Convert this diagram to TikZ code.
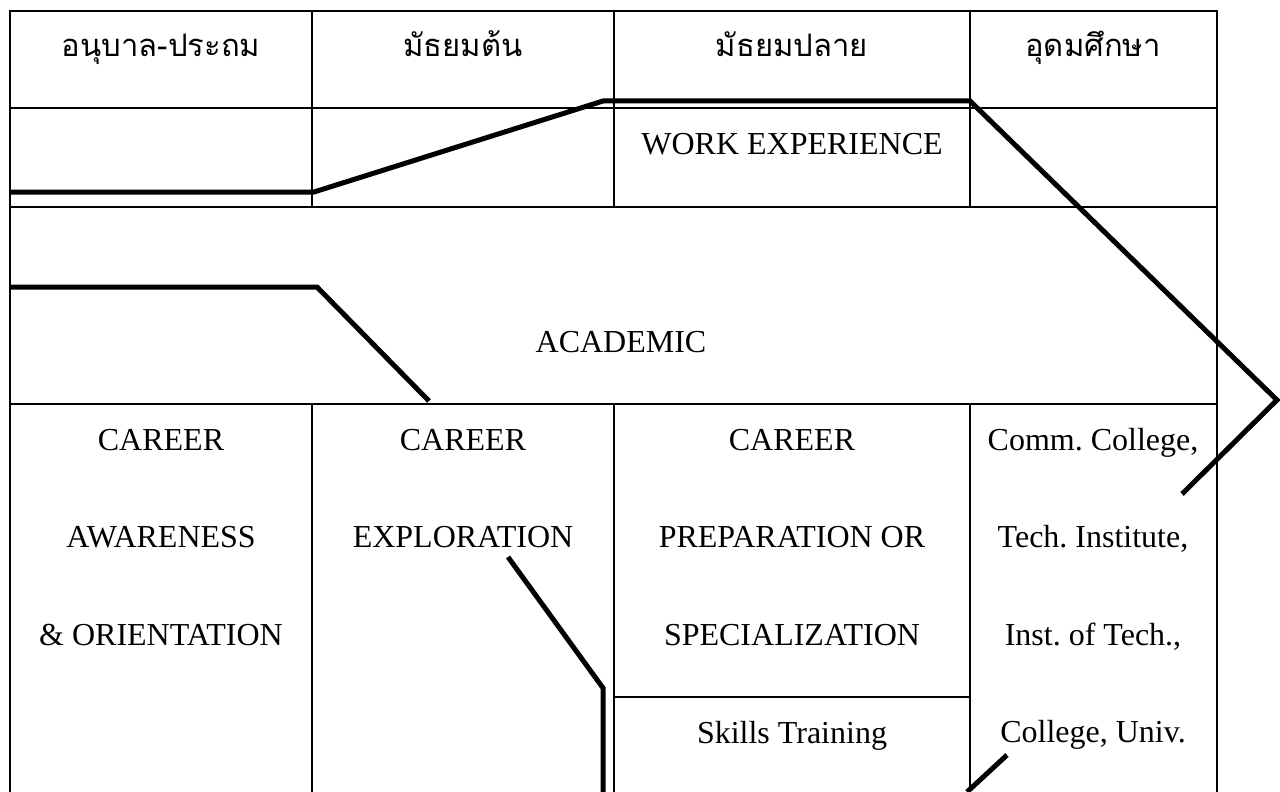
\documentclass[tikz,border=0pt]{standalone}
\usepackage{fontspec}
\setmainfont{Liberation Serif}
\newfontfamily\thaifont[Script=Thai]{Loma}
\usetikzlibrary{positioning}
\frenchspacing

\begin{document}
\begin{tikzpicture}[x=0.5pt, y=-0.5pt]
    \tikzstyle{rule} = [draw, line width=1pt];
    \tikzstyle{track} = [draw, line width=2.5pt];
    \tikzstyle{head} = [anchor=base, inner sep=0pt, font=\thaifont\fontsize{15.5}{18}\selectfont];
    \tikzstyle{entry} = [anchor=base, inner sep=0pt, font=\fontsize{16}{19}\selectfont];

    \useasboundingbox (0,0) rectangle (1280,792);

    % table
    \draw[rule] (10,792) -- (10,11) -- (1217,11) -- (1217,792);
    \foreach \y in {108, 207, 404} \draw[rule] (10,\y) -- (1217,\y);
    \foreach \x in {312, 614, 970} {
        \draw[rule] (\x,11) -- (\x,207);
        \draw[rule] (\x,404) -- (\x,792);
    }
    \draw[rule] (614,697) -- (970,697);

    % levels
    \node[head] (kinder) at (161,57) {อนุบาล-ประถม};
    \node[head] (lowsec) at (463,57) {มัธยมต้น};
    \node[head] (upsec) at (792,57) {มัธยมปลาย};
    \node[head] (higher) at (1093,57) {อุดมศึกษา};

    \node[entry] (work) at (792,155) {WORK EXPERIENCE};
    \node[entry] (acad) at (621,352) {ACADEMIC};

    \node[entry] (aware1) at (161,450) {CAREER};
    \node[entry] (aware2) at (161,547) {AWARENESS};
    \node[entry] (aware3) at (161,645) {\& ORIENTATION};

    \node[entry] (explo1) at (463,450) {CAREER};
    \node[entry] (explo2) at (463,547) {EXPLORATION};

    \node[entry] (prep1) at (792,450) {CAREER};
    \node[entry] (prep2) at (792,547) {PREPARATION OR};
    \node[entry] (prep3) at (792,645) {SPECIALIZATION};
    \node[entry] (skill) at (792,743) {Skills Training};

    \node[entry] (coll1) at (1093,450) {Comm. College,};
    \node[entry] (coll2) at (1093,547) {Tech. Institute,};
    \node[entry] (coll3) at (1093,645) {Inst. of Tech.,};
    \node[entry] (coll4) at (1093,742) {College, Univ.};

    % tracks
    \coordinate (w1) at (10,192);
    \coordinate (w2) at (314,192);
    \coordinate (w3) at (603,101);
    \coordinate (w4) at (970,101);
    \coordinate (w5) at (1277,400);
    \coordinate (w6) at (1182,494);
    \draw[track] (w1) -- (w2) -- (w3) -- (w4) -- (w5) -- (w6);

    \coordinate (a1) at (10,287);
    \coordinate (a2) at (317,287);
    \coordinate (a3) at (429,401);
    \draw[track] (a1) -- (a2) -- (a3);

    \coordinate (e1) at (508,557);
    \coordinate (e2) at (603,688);
    \coordinate (e3) at (603,792);
    \draw[track] (e1) -- (e2) -- (e3);

    \coordinate (u1) at (1007,755);
    \coordinate (u2) at (967,792);
    \draw[track] (u1) -- (u2);
\end{tikzpicture}
\end{document}
